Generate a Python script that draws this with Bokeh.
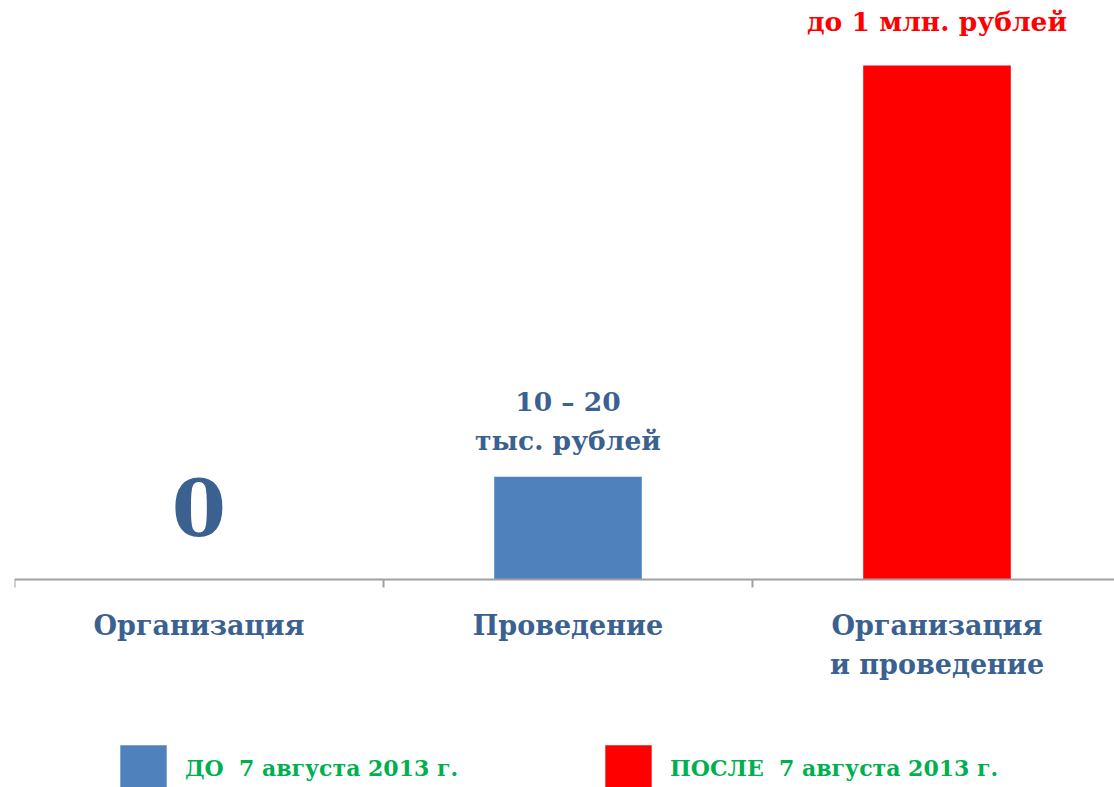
from bokeh.plotting import figure
from bokeh.models import Range1d, FixedTicker, Legend, LegendItem, ColumnDataSource
from bokeh.core.properties import value
from bokeh.embed import file_html
from bokeh.resources import INLINE

# ---- data ----
categories = ["Организация", "Проведение", "Организация\nи проведение"]
before_values = [0, 20]          # ДО 7 августа 2013 г. (Организация, Проведение)
after_values = [100]             # ПОСЛЕ 7 августа 2013 г. (Организация и проведение)
value_labels = ["0", "10 – 20\nтыс. рублей", "до 1 млн. рублей"]
series_names = ["ДО  7 августа 2013 г.", "ПОСЛЕ  7 августа 2013 г."]

FONT = "DejaVu Serif"
BLUE = "#4F81BD"
RED = "#FF0000"
TXT = "#3A6190"
GREEN = "#00B050"

xs = [i + 0.5 for i in range(len(categories))]

p = figure(frame_width=1100, frame_height=779, output_backend="svg", toolbar_location=None,
           x_range=Range1d(0, 2.981), y_range=Range1d(-40.47, 111.09),
           y_axis_location=None, min_border_left=14, min_border_right=0,
           min_border_top=8, min_border_bottom=0, outline_line_color=None)
p.grid.visible = False

before_src = ColumnDataSource(dict(x=xs[1:2], top=before_values[1:2]))
after_src = ColumnDataSource(dict(x=xs[2:3], top=after_values))
r_before = p.vbar(x="x", top="top", width=0.4, source=before_src, fill_color=BLUE, line_color=None)
r_after = p.vbar(x="x", top="top", width=0.4, source=after_src, fill_color=RED, line_color=None)

# value labels
p.text(x=[xs[0]], y=[before_values[0]], text=[value_labels[0]], text_font=value(FONT),
       text_font_style="bold", text_font_size="78px", text_color=TXT, text_align="center",
       text_baseline="bottom", y_offset=-43)
p.text(x=[xs[1]], y=[before_values[1]], text=[value_labels[1]], text_font=value(FONT),
       text_font_style="bold", text_font_size="26.5px", text_color=TXT, text_align="center",
       text_baseline="bottom", text_line_height=1.25, y_offset=-21)
p.text(x=[xs[2]], y=[after_values[0]], text=[value_labels[2]], text_font=value(FONT),
       text_font_style="bold", text_font_size="26.5px", text_color=RED, text_align="center",
       text_baseline="bottom", y_offset=-29)

ax = p.xaxis[0]
ax.fixed_location = 0
ax.ticker = FixedTicker(ticks=xs, minor_ticks=[0, 1, 2, 3])
ax.major_label_overrides = {x: c for x, c in zip(xs, categories)}
ax.major_tick_out = 0
ax.major_tick_in = 0
ax.minor_tick_out = 8
ax.minor_tick_in = 0
ax.minor_tick_line_color = "#A0A0A0"
ax.minor_tick_line_width = 2
ax.axis_line_color = "#A0A0A0"
ax.axis_line_width = 2
ax.major_label_text_font = FONT
ax.major_label_text_font_style = "bold"
ax.major_label_text_font_size = "27px"
ax.major_label_text_line_height = 1.25
ax.major_label_text_color = TXT
ax.major_label_standoff = 23

legend = Legend(items=[LegendItem(label=series_names[0], renderers=[r_before]),
                       LegendItem(label=series_names[1], renderers=[r_after])],
                orientation="horizontal", location=(100, -10),
                glyph_width=58, glyph_height=58, label_standoff=13, spacing=141,
                label_text_font=FONT, label_text_font_style="bold",
                label_text_font_size="22px", label_text_color=GREEN,
                border_line_color=None, background_fill_alpha=0, margin=0, padding=0)
p.add_layout(legend, "center")

open("out.html", "w").write(file_html(p, INLINE))
